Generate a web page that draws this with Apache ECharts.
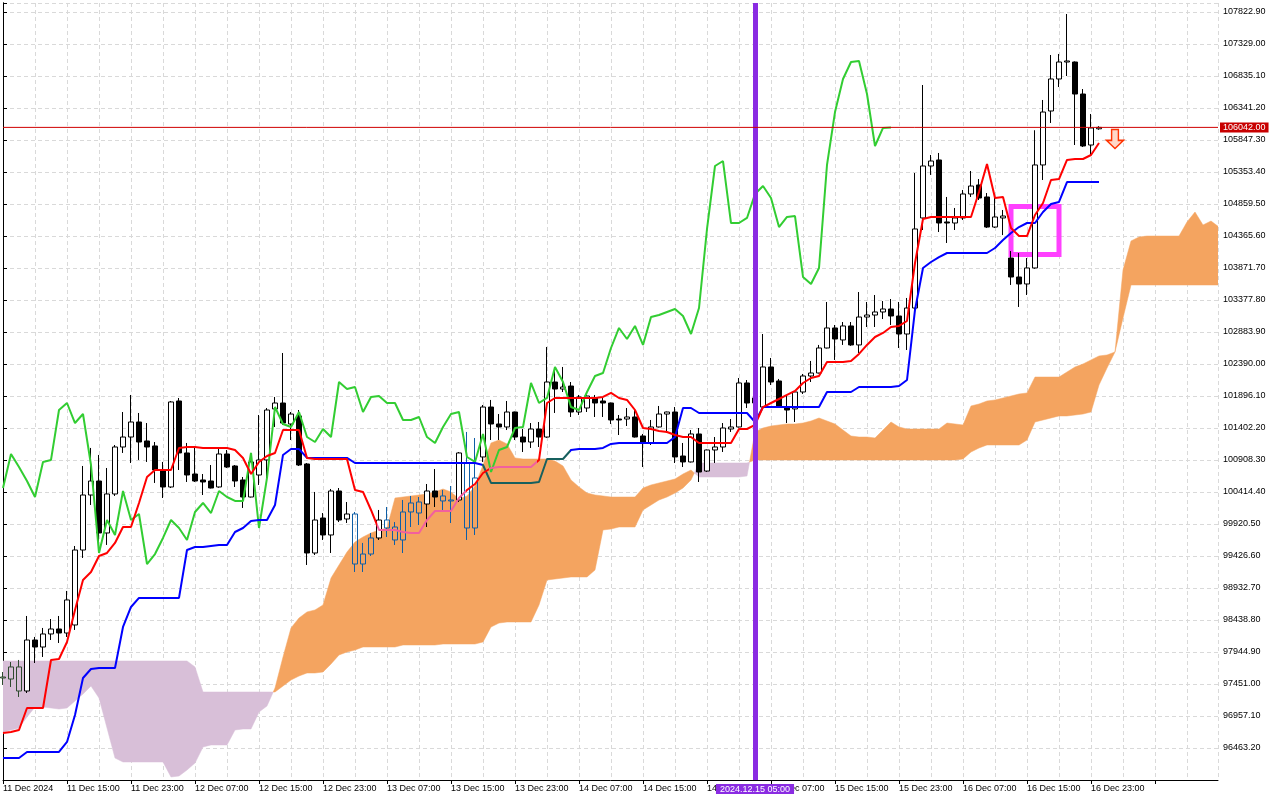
<!DOCTYPE html>
<html><head><meta charset="utf-8">
<script src="https://cdn.jsdelivr.net/npm/echarts@6/dist/echarts.min.js"></script>
<style>html,body{margin:0;padding:0;background:#fff}#c{width:1280px;height:800px}</style>
</head><body><div id="c"></div>
<script>
// ---- data (hourly candles from 11 Dec 2024 07:00) ----
const xTickLabels = ["11 Dec 2024","11 Dec 15:00","11 Dec 23:00","12 Dec 07:00","12 Dec 15:00","12 Dec 23:00","13 Dec 07:00","13 Dec 15:00","13 Dec 23:00","14 Dec 07:00","14 Dec 15:00","14 Dec 23:00","15 Dec 07:00","15 Dec 15:00","15 Dec 23:00","16 Dec 07:00","16 Dec 15:00","16 Dec 23:00"];
const yTickFirst = 96463.2, yTickStep = 493.9, yTickLast = 107822.9;

// [open, close, low, high]
const candles = [
[97559,97544,97436,97636],[97528,97714,97405,97791],[97714,97343,97251,97822],[97343,98130,97312,98501],[98130,98022,97775,98177],
[98022,98223,97868,98316],[98223,98300,98130,98454],[98300,98238,98084,98501],[98238,98748,98177,98887],[98362,99519,98285,99581],
[99519,100368,99396,100816],[100368,100584,100214,101094],[100584,99782,99597,100986],[99782,100384,99597,100785],[100384,101109,100353,101140],
[101109,101263,101017,101649],[101263,101495,100862,101912],[101495,101186,100909,101634],[101202,101109,100878,101479],[101125,100754,100554,101186],
[100754,100492,100322,100878],[100492,101804,100476,101819],[101819,101017,100754,101865],[101017,100677,100569,101171],[100692,100584,100569,101094],
[100600,100569,100368,100692],[100584,100476,100470,100831],[100492,101001,100480,101078],[101001,100800,100785,101063],[100816,100584,100492,100831],
[100600,100337,100168,100646],[100337,100878,100330,101017],[100677,100909,100523,101603],[100909,101680,100615,101711],[101696,101788,101418,101881],
[101788,101479,101449,102560],[101464,101618,101217,101649],[101588,100831,100816,101680],[100847,99473,99288,100862],[99473,99982,99442,100415],
[100013,99751,99674,100090],[99751,100430,99473,100461],[100430,99982,99951,100476],[99998,100075,99936,100260],[100075,99303,99180,100106],
[99303,99457,99180,99628],[99457,99705,99427,99782],[99705,99982,99674,100137],[99982,99859,99720,100183],[99874,99674,99597,99951],
[99674,100106,99473,100291],[100106,100245,99874,100353],[100260,100090,99905,100337],[100229,100430,99874,100538],[100430,100337,100183,100769],
[100353,100276,100137,100446],[100291,100276,99936,100507],[100291,101017,100260,101032],[100862,99859,99674,101341],[99859,100631,99751,101248],
[100955,101726,100878,101757],[101726,101464,101217,101835],[101464,101418,101217,101618],[101418,101649,101371,101819],[101649,101263,101217,101655],
[101263,101186,101032,101387],[101186,101387,101094,101479],[101387,101263,101109,101495],[101263,102112,101250,102653],[102112,102004,101634,102328],
[102004,102035,101958,102344],[102050,101649,101572,102112],[101649,101881,101603,101912],[101711,101896,101649,101912],[101866,101788,101572,101912],
[101819,101788,101572,101881],[101788,101526,101464,101795],[101541,101526,101294,101603],[101541,101572,101433,101711],[101572,101263,101255,101680],
[101279,101171,100800,101310],[101171,101418,101140,101526],[101418,101618,101410,101742],[101618,101649,101325,101655],[101649,100955,100862,101726],
[100970,100878,100800,101171],[100878,101310,100870,101371],[101310,100723,100569,101402],[100738,101063,100723,101070],[101063,101109,100862,101263],
[101109,101402,101032,101479],[101387,101418,101341,101541],[101418,102097,101410,102174],[102097,101788,101711,102143],[101788,101866,101649,101912],
[101726,102344,101711,102853],[102344,102112,102066,102483],[102128,101726,101711,102159],[101711,101680,101479,101912],[101696,101958,101495,101965],
[101958,102205,101927,102236],[102205,102251,102112,102437],[102251,102637,102245,102684],[102637,102946,102630,103347],[102946,102776,102452,102992],
[102761,102977,102684,103038],[102977,102684,102670,103038],[102684,103115,102560,103501],[103115,103146,102961,103347],[103146,103193,102961,103455],
[103193,103239,103084,103362],[103239,103131,102992,103393],[103131,102853,102637,103347],[102853,103254,102606,103409],[103254,104474,103100,105338],
[104644,105446,104458,106696],[105446,105523,105308,105616],[105539,104566,104427,105647],[104582,104566,104258,104968],[104566,104644,104458,104798],
[104644,105014,104613,105076],[105014,105137,104968,105369],[105153,104952,104921,105245],[104968,104504,104489,105029],[104504,104659,104489,104952],
[104644,104674,104380,104767],[104026,103733,103610,104134],[103733,103625,103270,104103],[103625,103872,103455,104026],[103872,105462,103860,105998],
[105462,106279,105230,106465],[106295,106789,106110,107159],[106789,107051,106665,107175],[107051,107067,106835,107792],[107051,106557,105770,107060],
[106557,105755,105739,106634],[105770,106033,105616,106249],[106020,106042,106005,106060]
];

const tenkan = [
96695,96710,96741,97081,97081,97081,97822,97837,98100,98593,
99056,99180,99427,99473,99628,99874,99874,100245,100646,100754,
100754,100754,101094,101109,101109,101094,101094,101094,101094,101063,
100940,100692,100878,100970,101017,101371,101371,101371,100940,100924,
100924,100924,100924,100924,100446,100415,100137,99828,99828,99828,
99797,99782,99782,99982,100121,100121,100121,100322,100446,100538,
100708,100785,100800,100800,100800,100800,100800,100909,101788,101865,
101865,101865,101865,101865,101865,101881,101943,101865,101835,101680,
101402,101387,101356,101341,101294,101263,101263,101171,101171,101171,
101171,101171,101387,101387,101449,101726,101788,101850,101912,101974,
102097,102174,102205,102421,102421,102421,102437,102545,102684,102807,
102869,102961,102977,103054,103949,104628,104659,104659,104659,104659,
104659,104659,105045,105477,104952,104968,104489,104365,104365,104690,
104875,105230,105245,105539,105554,105554,105616,105801
];

const kijun = [
96309,96309,96309,96402,96402,96402,96402,96402,96556,96973,
97544,97683,97698,97698,97698,98331,98640,98779,98779,98779,
98779,98779,98779,99519,99565,99565,99581,99597,99597,99797,
99859,99967,99982,99982,100214,100986,101078,101078,100940,100940,
100940,100940,100940,100940,100862,100862,100862,100862,100862,100862,
100862,100862,100862,100862,100862,100862,100862,100862,100862,100862,
100831,100554,100554,100554,100554,100554,100554,100569,100924,100924,
100924,101063,101078,101078,101078,101094,101156,101171,101171,101171,
101171,101171,101171,101171,101263,101711,101711,101634,101634,101634,
101634,101634,101634,101634,101495,101726,101726,101726,101726,101726,
101726,101726,101726,101958,101958,101958,101958,102035,102035,102035,
102035,102035,102050,102143,103224,103872,103964,104041,104103,104103,
104103,104103,104103,104103,104180,104304,104412,104504,104566,104566,
104736,104860,104891,105199,105199,105199,105199,105199
];

const spanA = [
96710,96741,96772,96942,97096,97096,97081,97065,97081,97189,
97297,97420,97235,96772,96309,96247,96247,96247,96247,96247,
96247,96016,96031,96124,96232,96479,96510,96510,96510,96741,
96757,96757,97019,97112,97389,97868,98316,98470,98563,98594,
98671,99087,99288,99488,99643,99720,99782,99828,99859,100322,
100337,100353,100368,100384,100415,100461,100415,100307,100353,100507,
100831,101171,101217,101156,100940,100924,100924,100924,100924,100893,
100816,100600,100492,100399,100368,100353,100337,100337,100337,100337,
100476,100523,100554,100584,100615,100692,100754,100646,100646,100646,
100646,100646,100646,100662,101341,101402,101433,101449,101464,101464,
101479,101510,101557,101510,101464,101371,101279,101263,101263,101248,
101371,101495,101418,101387,101387,101387,101387,101387,101479,101464,
101449,101742,101773,101819,101835,101865,101896,101927,101943,102189,
102189,102189,102189,102267,102344,102390,102452,102514,102529,102576,
103841,104288,104350,104365,104365,104365,104365,104365,104582,104736,104535,104597,104504
];

const spanB = [
97806,97806,97806,97806,97806,97806,97806,97806,97806,97806,
97806,97806,97806,97806,97806,97806,97806,97806,97806,97806,
97806,97806,97806,97806,97714,97328,97328,97328,97328,97328,
97328,97328,97328,97328,97328,97420,97513,97574,97621,97621,
97636,97760,97899,97945,97976,98022,98022,98022,98022,98022,
98053,98053,98053,98053,98053,98068,98068,98068,98068,98068,
98100,98331,98392,98408,98408,98408,98408,98671,99056,99072,
99087,99103,99103,99103,99211,99828,99843,99874,99874,99874,
100137,100214,100291,100337,100399,100476,100600,100862,100862,100862,
100862,100862,100862,100862,100909,100909,100909,100909,100909,100909,
100909,100909,100909,100909,100909,100909,100909,100909,100909,100909,
100909,100909,100909,100909,100909,100909,100909,100909,100909,100909,
100924,101032,101094,101140,101140,101140,101140,101140,101217,101495,
101526,101557,101588,101588,101603,101618,101649,102066,102328,102576,
103100,103609,103609,103609,103609,103609,103609,103609,103609,103609,103609,103609,103609
];

const lastPrice = 106042;
const markerBarIndex = 94;            // 2024.12.15 05:00
const markerLabel = '2024.12.15 05:00';
const boxFrom = [126, 104821], boxTo = [132, 104080];
const arrowAt = [139, 105863];
const chikouShift = 26;

// style sets (which candles sit inside the cloud)
const orangeCloudCandles = [44,45,46,48,49,50,51,52,55,56,58,59];
const lavenderCloudCandles = [0,1,2];

// ---- build ----
const FONT = 'Liberation Sans';
const ORANGE = '#f4a460', LAVENDER = '#d8bfd8';
const XMAX = 151.875;
const candleData = candles.map((c, i) => {
  const item = { value: [i, c[0], c[1], c[2], c[3]] };
  if (orangeCloudCandles.includes(i)) {
    item.itemStyle = { color: 'rgba(0,0,0,0)', color0: '#0e5ea6', borderColor: '#0e5ea6', borderColor0: '#0e5ea6' };
  } else if (lavenderCloudCandles.includes(i)) {
    item.itemStyle = { color: 'rgba(0,0,0,0)', color0: '#2e4a2e', borderColor: '#2e4a2e', borderColor0: '#2e4a2e' };
  }
  return item;
});
const chikou = candles.slice(chikouShift).map((c, j) => [j, c[1]]);
const toXY = arr => arr.map((v, i) => [i, v]);
const priceLineData = [[0, lastPrice], [XMAX, lastPrice]];

// cloud: one polygon per run where span A stays above (orange) or below (lavender) span B
function renderCloud(params, api) {
  const children = [];
  let sign = null, upper = [], lower = [];
  const flush = () => {
    if (upper.length > 1) children.push({ type: 'polygon', silent: true,
      shape: { points: upper.concat(lower.slice().reverse()) },
      style: { fill: sign > 0 ? ORANGE : LAVENDER, stroke: sign > 0 ? ORANGE : LAVENDER, lineWidth: 0.5 } });
  };
  for (let i = 0; i < spanA.length; i++) {
    const d = spanA[i] - spanB[i];
    const s = d >= 0 ? 1 : -1;
    if (sign !== null && s !== sign) {
      const dPrev = spanA[i - 1] - spanB[i - 1];
      const t = dPrev / (dPrev - d);
      const pc = api.coord([i - 1 + t, spanA[i - 1] + t * (spanA[i] - spanA[i - 1])]);
      upper.push(pc); lower.push(pc);
      flush();
      upper = [pc]; lower = [pc];
    }
    sign = s;
    upper.push(api.coord([i, spanA[i]]));
    lower.push(api.coord([i, spanB[i]]));
  }
  flush();
  return { type: 'group', children };
}

const chart = echarts.init(document.getElementById('c'), null, { renderer: 'canvas' });
const gridDash = { color: '#d9d9d9', type: [4, 3], width: 1 };

chart.setOption({
  animation: false,
  backgroundColor: '#ffffff',
  grid: { left: 3, top: 3, width: 1215, height: 777, containLabel: false },
  xAxis: [
    { type: 'value', min: 0, max: XMAX, interval: 4,
      axisLine: { show: false }, axisTick: { show: false }, axisLabel: { show: false },
      splitLine: { show: true, lineStyle: gridDash } },
    { type: 'value', min: 0, max: XMAX, interval: 8, position: 'bottom',
      axisLine: { show: true, lineStyle: { color: '#000', width: 1 } },
      axisTick: { show: true, length: 4, lineStyle: { color: '#000' } },
      splitLine: { show: false },
      axisLabel: { show: true, align: 'left', margin: 4, fontSize: 9, fontFamily: FONT, color: '#000',
        showMaxLabel: false,
        formatter: v => { const k = Math.round(v / 8); return (Math.abs(v - k * 8) < 1e-6 && xTickLabels[k]) ? xTickLabels[k] : ''; } } }
  ],
  yAxis: [
    { type: 'value', position: 'right', min: yTickFirst - yTickStep, max: 107961.8, interval: yTickStep,
      axisLine: { show: true, lineStyle: { color: '#000', width: 1 } },
      axisTick: { show: true, length: 4, lineStyle: { color: '#000' } },
      splitLine: { show: true, lineStyle: gridDash },
      axisLabel: { margin: 5, fontSize: 9, fontFamily: FONT, color: '#000',
        formatter: v => (v < yTickFirst - 1 || v > yTickLast + 1) ? '' : v.toFixed(2) } },
    { type: 'value', position: 'left', min: yTickFirst - yTickStep, max: 107961.8,
      axisLine: { show: true, lineStyle: { color: '#000', width: 1 } },
      axisTick: { show: false }, axisLabel: { show: false }, splitLine: { show: false } }
  ],
  visualMap: [
    { type: 'piecewise', show: false, seriesIndex: 4, dimension: 0,
      pieces: [
        { lt: 46.8, color: '#ff0000' },
        { gte: 46.8, lt: 57.9, color: '#f2609e' },
        { gte: 57.9, lt: 60.7, color: '#ff0000' },
        { gte: 60.7, lt: 66.8, color: '#f2609e' },
        { gte: 66.8, color: '#ff0000' } ] },
    { type: 'piecewise', show: false, seriesIndex: 3, dimension: 0,
      pieces: [
        { lt: 59.9, color: '#0000ff' },
        { gte: 59.9, lt: 70.9, color: '#17605e' },
        { gte: 70.9, color: '#0000ff' } ] }
  ],
  series: [
    { name: 'cloud', type: 'custom', renderItem: renderCloud, data: [[0, 100000]],
      encode: { x: 0, y: 1 }, clip: true, silent: true, z: 1 },
    { name: 'price', type: 'candlestick', data: candleData, barWidth: 5, z: 2, clip: true,
      itemStyle: { color: '#ffffff', color0: '#000000', borderColor: '#000000', borderColor0: '#000000', borderWidth: 1 } },
    { name: 'chikou', type: 'line', data: chikou, showSymbol: false, z: 3,
      lineStyle: { color: '#32cd32', width: 2 } },
    { name: 'kijun', type: 'line', data: toXY(kijun), showSymbol: false, z: 3,
      lineStyle: { width: 2 } },
    { name: 'tenkan', type: 'line', data: toXY(tenkan), showSymbol: false, z: 3,
      lineStyle: { width: 2 } },
    { name: 'lastPriceLine', type: 'line', data: priceLineData, z: 9, clip: false, showSymbol: false, silent: true,
      color: '#d00000',
      lineStyle: { color: '#d00000', width: 1, type: 'solid' },
      endLabel: { show: true, distance: 2, formatter: () => lastPrice.toFixed(2),
        color: '#ffffff', backgroundColor: '#c80000', padding: [1, 3, 0, 3], fontSize: 9, fontFamily: FONT } },
    { name: 'markers', type: 'line', data: [], z: 10, clip: false, color: '#8a2be2',
      markLine: {
        silent: true, symbol: 'none', animation: false,
        lineStyle: { color: '#8a2be2', width: 5, type: 'solid', opacity: 1 },
        label: { show: true, position: 'start', distance: 4, formatter: markerLabel,
          color: '#ffffff', backgroundColor: '#8a2be2', padding: [1, 4, 0, 4], fontSize: 9, fontFamily: FONT },
        data: [ { xAxis: markerBarIndex } ] },
      markArea: {
        silent: true,
        itemStyle: { color: 'rgba(0,0,0,0)', borderColor: '#ff40ff', borderWidth: 5 },
        data: [[ { coord: boxFrom }, { coord: boxTo } ]] },
      markPoint: {
        silent: true,
        data: [ { coord: arrowAt, symbol: 'path://M3,0 L7,0 L7,8 L10,8 L5,14 L0,8 L3,8 Z', symbolSize: [17, 19],
          itemStyle: { color: '#ffd8c8', borderColor: '#ff3300', borderWidth: 1.5 }, label: { show: false } } ] }
    }
  ]
});
</script>
</body></html>
